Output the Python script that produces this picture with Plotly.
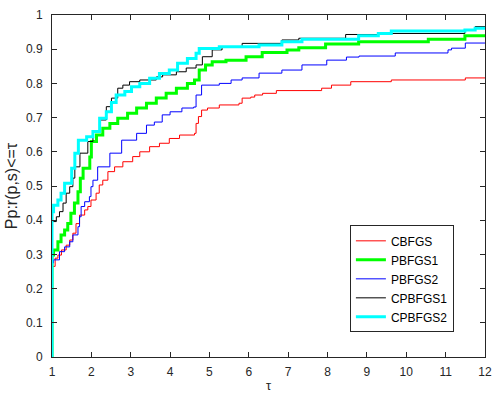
import plotly.graph_objects as go

# ---- data ----
tau_cbfgs = [1, 1, 1.08, 1.15, 1.24, 1.36, 1.45, 1.53, 1.61, 1.70, 1.83, 1.91, 1.99, 2.12, 2.20, 2.29, 2.42, 2.59, 2.80,
             3.05, 3.23, 3.48, 3.73, 3.98, 4.24, 4.62, 4.66, 4.72, 4.80, 4.95, 5.25, 5.75, 5.83, 6.05, 6.15, 6.35, 6.70,
             7.85, 8.10, 8.59, 9.62, 11.50, 12]
rho_cbfgs = [0, 0.265, 0.289, 0.298, 0.313, 0.327, 0.342, 0.362, 0.39, 0.415, 0.43, 0.44, 0.459, 0.479, 0.503, 0.517,
             0.542, 0.556, 0.571, 0.586, 0.60, 0.615, 0.625, 0.639, 0.649, 0.654, 0.683, 0.703, 0.722, 0.728, 0.737,
             0.742, 0.757, 0.760, 0.766, 0.771, 0.779, 0.786, 0.795, 0.805, 0.81, 0.816, 0.816]

tau_pbfgs1 = [1, 1, 1.04, 1.15, 1.23, 1.32, 1.40, 1.48, 1.57, 1.66, 1.72, 1.79, 1.96, 2.0, 2.13, 2.29, 2.47, 2.67, 2.92,
              3.15, 3.40, 3.65, 3.90, 4.16, 4.44, 4.62, 4.74, 4.90, 5.07, 5.42, 5.93, 6.34, 6.97, 7.27, 7.95, 8.79,
              10.56, 11.49, 12]
rho_pbfgs1 = [0, 0.298, 0.313, 0.337, 0.357, 0.371, 0.39, 0.42, 0.45, 0.483, 0.523, 0.552, 0.585, 0.63, 0.649, 0.669,
              0.683, 0.698, 0.713, 0.728, 0.742, 0.757, 0.771, 0.786, 0.80, 0.81, 0.839, 0.854, 0.863, 0.868, 0.878,
              0.89, 0.898, 0.904, 0.915, 0.922, 0.929, 0.939, 0.939]

tau_pbfgs2 = [1, 1, 1.04, 1.19, 1.32, 1.45, 1.53, 1.66, 1.70, 1.74, 1.83, 1.95, 1.99, 2.04, 2.16, 2.47, 2.77, 3.15, 3.40,
              3.60, 3.80, 4.0, 4.30, 4.60, 4.66, 4.80, 5.25, 5.55, 5.83, 6.26, 6.84, 7.35, 7.98, 8.48, 8.80, 9.72, 11.06,
              11.15, 11.50, 12]
rho_pbfgs2 = [0, 0.275, 0.284, 0.308, 0.322, 0.337, 0.357, 0.381, 0.41, 0.44, 0.454, 0.469, 0.498, 0.517, 0.556, 0.596,
              0.634, 0.654, 0.678, 0.687, 0.708, 0.717, 0.728, 0.731, 0.766, 0.795, 0.80, 0.81, 0.816, 0.830, 0.839,
              0.854, 0.868, 0.877, 0.880, 0.889, 0.898, 0.903, 0.918, 0.918]

tau_cpbfgs1 = [1, 1, 1.11, 1.19, 1.28, 1.36, 1.45, 1.53, 1.58, 1.71, 1.91, 2.04, 2.21, 2.38, 2.51, 2.67, 2.80, 2.97,
               3.23, 3.65, 3.81, 4.16, 4.41, 4.66, 4.82, 5.07, 5.32, 5.83, 6.84, 7.27, 8.46, 9.29, 11.49, 11.75, 12]
rho_cpbfgs1 = [0, 0.396, 0.41, 0.425, 0.45, 0.479, 0.498, 0.523, 0.556, 0.596, 0.63, 0.659, 0.693, 0.732, 0.757, 0.786,
               0.795, 0.805, 0.81, 0.819, 0.825, 0.834, 0.845, 0.854, 0.878, 0.898, 0.907, 0.917, 0.927, 0.932, 0.943,
               0.946, 0.956, 0.966, 0.966]

tau_cpbfgs2 = [1, 1, 1.04, 1.15, 1.23, 1.32, 1.50, 1.58, 1.67, 1.88, 2.04, 2.21, 2.38, 2.51, 2.63, 2.85, 3.02, 3.23,
               3.48, 3.73, 3.98, 4.19, 4.44, 4.66, 4.74, 5.25, 6.26, 6.84, 7.35, 8.79, 9.29, 9.62, 11.49, 11.75, 12]
rho_cpbfgs2 = [0, 0.425, 0.444, 0.459, 0.479, 0.508, 0.552, 0.596, 0.634, 0.644, 0.659, 0.698, 0.717, 0.744, 0.766,
               0.776, 0.79, 0.80, 0.815, 0.829, 0.839, 0.859, 0.873, 0.888, 0.902, 0.907, 0.912, 0.922, 0.929, 0.939,
               0.946, 0.953, 0.956, 0.961, 0.961]

x_ticks = list(range(1, 13))
y_ticks = [0, 0.1, 0.2, 0.3, 0.4, 0.5, 0.6, 0.7, 0.8, 0.9, 1]
y_tick_labels = ["0", "0.1", "0.2", "0.3", "0.4", "0.5", "0.6", "0.7", "0.8", "0.9", "1"]

series = [
    ("CBFGS", tau_cbfgs, rho_cbfgs, "#FF0000", 1),
    ("PBFGS1", tau_pbfgs1, rho_pbfgs1, "#00FF00", 3),
    ("PBFGS2", tau_pbfgs2, rho_pbfgs2, "#0000FF", 1),
    ("CPBFGS1", tau_cpbfgs1, rho_cpbfgs1, "#000000", 1),
    ("CPBFGS2", tau_cpbfgs2, rho_cpbfgs2, "#00FFFF", 3),
]

fig = go.Figure()
for name, t, r, c, w in series:
    fig.add_trace(go.Scatter(x=t, y=r, mode="lines", name=name,
                             line=dict(color=c, width=w, shape="hv")))

font_family = "Liberation Sans, Arial, sans-serif"
axis_common = dict(showline=True, linecolor="#262626", linewidth=1, mirror="ticks",
                   ticks="inside", ticklen=5, tickcolor="#262626", showgrid=False,
                   zeroline=False, automargin=False, ticklabeloverflow="allow",
                   tickfont=dict(family=font_family, size=12, color="#262626"))

fig.update_layout(
    width=492, height=395,
    margin=dict(l=52, r=7, t=15, b=38),
    paper_bgcolor="white", plot_bgcolor="white",
    font=dict(family=font_family, size=12, color="#262626"),
    xaxis=dict(range=[1, 12], tickvals=x_ticks, ticktext=[str(v) for v in x_ticks],
               ticklabelstandoff=4,
               title=dict(text="τ", font=dict(size=13), standoff=2), **axis_common),
    yaxis=dict(range=[0, 1], tickvals=y_ticks, ticktext=y_tick_labels,
               ticklabelstandoff=6,
               title=dict(text="Pp:r(p,s)<=τ", font=dict(size=16), standoff=4), **axis_common),
    legend=dict(x=0.688, y=0.385, xanchor="left", yanchor="top",
                bgcolor="white", bordercolor="#262626", borderwidth=1,
                font=dict(family=font_family, size=12, color="#000000"),
                tracegroupgap=0, itemwidth=30),
    showlegend=True,
)

fig.write_html("out.html", config={"displayModeBar": False},
               post_script="document.body.style.margin='0';document.body.style.overflow='hidden';")
